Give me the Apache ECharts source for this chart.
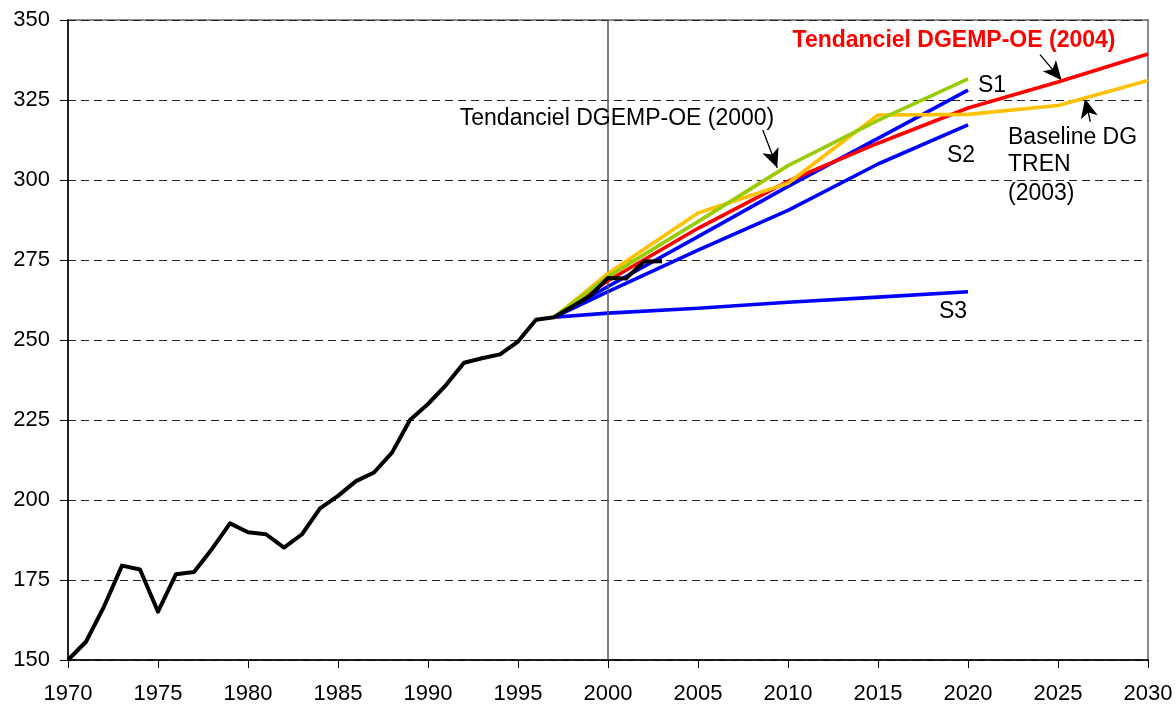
<!DOCTYPE html>
<html>
<head>
<meta charset="utf-8">
<script src="https://cdn.jsdelivr.net/npm/echarts@6/dist/echarts.min.js"></script>
<style>
  html, body { margin: 0; padding: 0; background: #fff; }
  #chart { width: 1176px; height: 706px; }
</style>
</head>
<body>
<div id="chart"></div>
<script>
  // historique
  var histYears = [1970, 1971, 1972, 1973, 1974, 1975, 1976, 1977, 1978, 1979,
    1980, 1981, 1982, 1983, 1984, 1985, 1986, 1987, 1988, 1989,
    1990, 1991, 1992, 1993, 1994, 1995, 1996, 1997, 1998, 1999,
    2000, 2001, 2002, 2003]
  var histValues = [150.0, 155.7, 166.7, 179.5, 178.3, 165.1, 176.8, 177.5, 184.7, 192.7,
    189.9, 189.3, 185.1, 189.3, 197.4, 201.3, 205.9, 208.6, 214.8, 225.0,
    230.0, 235.9, 242.9, 244.3, 245.5, 249.5, 256.3, 257.1, 260.4, 263.8,
    269.4, 269.2, 274.5, 274.6]

  // projections
  var projYears = [1997, 2000, 2005, 2010, 2015, 2020]
  var longYears = [1997, 2000, 2005, 2010, 2015, 2020, 2025, 2030]
  var s1Values = [257.1, 266.7, 282.3, 298.0, 313.0, 328.1]
  var s2Values = [257.1, 265.1, 278.1, 290.5, 305.0, 317.2]
  var s3Values = [257.1, 258.4, 259.9, 261.8, 263.4, 265.1]
  var dgemp2000Values = [257.1, 269.8, 287.0, 304.5, 318.6, 331.6]
  var dgemp2004Values = [257.1, 268.5, 284.9, 299.6, 311.5, 322.5, 330.6, 339.4]
  var dgtrenValues = [257.1, 270.8, 289.7, 299.0, 320.3, 320.5, 323.3, 331.1]

  var xTicks = [1970, 1975, 1980, 1985, 1990, 1995, 2000, 2005, 2010, 2015, 2020, 2025, 2030]
  var yTicks = [150, 175, 200, 225, 250, 275, 300, 325, 350]

  // flèches d'annotation (coordonnées en données : début -> pointe)
  var arrowLinks = [
    [[2024.0, 339.2], [2025.2, 331.2]],
    [[2026.8, 318.2], [2026.5, 325.4]],
    [[2008.6, 315.6], [2009.4, 303.8]]
  ]

  function pairs(xs, ys) {
    return xs.map(function (x, i) { return [x, ys[i]] })
  }

  var font = "'Liberation Sans', Arial, sans-serif"
  var chart = echarts.init(document.getElementById('chart'))

  function lineSerie(name, xs, ys, color, z, width) {
    return {
      name: name,
      type: 'line',
      data: pairs(xs, ys),
      showSymbol: false,
      symbol: 'none',
      z: z,
      lineStyle: { color: color, width: width || 3.6, join: 'round' },
      itemStyle: { color: color },
      animation: false,
      silent: true
    }
  }

  var s3 = lineSerie('S3', projYears, s3Values, '#0000ff', 2)
  s3.markLine = {
    silent: true,
    symbol: 'none',
    label: { show: false },
    lineStyle: { type: 'solid', color: '#555', width: 1.5 },
    data: [{ xAxis: 2000 }],
    animation: false
  }

  var arrows = {
    type: 'line',
    data: [],
    z: 20,
    silent: true,
    markLine: {
      silent: true,
      symbol: ['none', 'arrow'],
      symbolSize: [13, 19],
      label: { show: false },
      lineStyle: { type: 'solid', color: '#000', width: 1.3 },
      data: arrowLinks.map(function (a) {
        return [{ coord: a[0] }, { coord: a[1] }]
      }),
      animation: false
    }
  }

  var option = {
    animation: false,
    backgroundColor: '#fff',
    textStyle: { fontFamily: font },
    grid: {
      left: 68, right: 28, top: 20, bottom: 46,
      show: true, borderColor: '#666', borderWidth: 1.5, backgroundColor: 'transparent'
    },
    xAxis: {
      type: 'value',
      min: xTicks[0],
      max: xTicks[xTicks.length - 1],
      interval: 5,
      axisLine: { lineStyle: { color: '#000', width: 1.5 } },
      axisTick: { show: true, length: 8, inside: false, lineStyle: { color: '#000', width: 1 } },
      axisLabel: {
        color: '#000', fontSize: 22, fontFamily: font, margin: 23,
        showMinLabel: true, showMaxLabel: true,
        formatter: function (v) { return String(v) }
      },
      splitLine: { show: false }
    },
    yAxis: {
      type: 'value',
      min: yTicks[0],
      max: yTicks[yTicks.length - 1],
      interval: 25,
      axisLine: { show: true, lineStyle: { color: '#000', width: 1.5 } },
      axisTick: { show: true, length: 8, inside: false, lineStyle: { color: '#000', width: 1 } },
      axisLabel: { color: '#000', fontSize: 22, fontFamily: font, margin: 18 },
      splitLine: { show: true, lineStyle: { color: '#222', width: 1, type: [8, 5] } }
    },
    series: [
      s3,
      lineSerie('S2', projYears, s2Values, '#0000ff', 3),
      lineSerie('S1', projYears, s1Values, '#0000ff', 4),
      lineSerie('Tendanciel DGEMP-OE (2004)', longYears, dgemp2004Values, '#ff0000', 5),
      lineSerie('Baseline DG TREN (2003)', longYears, dgtrenValues, '#ffc000', 6),
      lineSerie('Tendanciel DGEMP-OE (2000)', projYears, dgemp2000Values, '#99cc00', 7),
      lineSerie('Historique', histYears, histValues, '#000000', 10, 4),
      arrows
    ],
    graphic: [
      { type: 'text', z: 100, style: { text: 'Tendanciel DGEMP-OE (2004)', x: 954, y: 41, align: 'center', verticalAlign: 'middle', font: 'bold 23px ' + font, fill: '#ff0000' } },
      { type: 'text', z: 100, style: { text: 'Tendanciel DGEMP-OE (2000)', x: 617, y: 119, align: 'center', verticalAlign: 'middle', font: '23px ' + font, fill: '#000' } },
      { type: 'text', z: 100, style: { text: 'S1', x: 978, y: 86, align: 'left', verticalAlign: 'middle', font: '23px ' + font, fill: '#000' } },
      { type: 'text', z: 100, style: { text: 'S2', x: 947, y: 156, align: 'left', verticalAlign: 'middle', font: '23px ' + font, fill: '#000' } },
      { type: 'text', z: 100, style: { text: 'S3', x: 939, y: 312, align: 'left', verticalAlign: 'middle', font: '23px ' + font, fill: '#000' } },
      { type: 'text', z: 100, style: { text: 'Baseline DG', x: 1008, y: 138, align: 'left', verticalAlign: 'middle', font: '23px ' + font, fill: '#000' } },
      { type: 'text', z: 100, style: { text: 'TREN', x: 1008, y: 165, align: 'left', verticalAlign: 'middle', font: '23px ' + font, fill: '#000' } },
      { type: 'text', z: 100, style: { text: '(2003)', x: 1008, y: 194, align: 'left', verticalAlign: 'middle', font: '23px ' + font, fill: '#000' } }
    ]
  }

  chart.setOption(option)
</script>
</body>
</html>
